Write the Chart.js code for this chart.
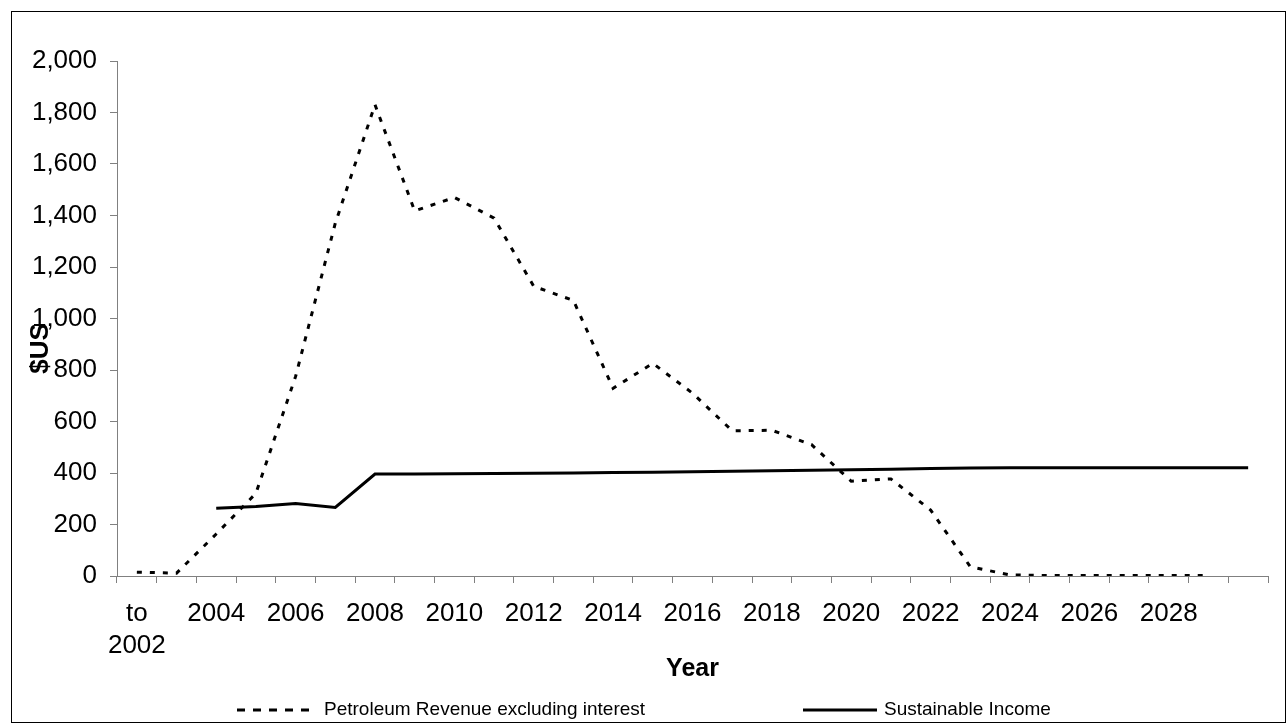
<!DOCTYPE html>
<html>
<head>
<meta charset="utf-8">
<script src="https://cdn.jsdelivr.net/npm/chart.js@4"></script>
<style>
  body { margin: 0; background: #fff; }
  #wrap { width: 1288px; height: 725px; }
</style>
</head>
<body>
<div id="wrap"><canvas id="myChart" width="1288" height="725"></canvas></div>
<script>
const years = [['to', '2002'], '2003', '2004', '2005', '2006', '2007', '2008', '2009', '2010', '2011',
    '2012', '2013', '2014', '2015', '2016', '2017', '2018', '2019', '2020', '2021',
    '2022', '2023', '2024', '2025', '2026', '2027', '2028', '2029', '2030'];
const petroleumRevenue = [15, 11, 163, 321, 775, 1370, 1830, 1418, 1470, 1390,
    1125, 1070, 729, 826, 710, 564, 566, 510, 368, 377,
    256, 36, 4, 2, 2, 2, 2, 2, null];
const sustainableIncome = [null, null, 263, 270, 282, 266, 396, 396, 397, 398,
    399, 400, 402, 403, 405, 407, 409, 411, 413, 415,
    417, 419, 420, 420, 420, 420, 420, 420, 420];
const seriesNames = ['Petroleum Revenue excluding interest', 'Sustainable Income'];
const yTicks = { min: 0, max: 2000, step: 200 };

const FONT = '"Liberation Sans", Arial, sans-serif';
const axisGray = '#808080';

// frame, y title and legend drawn by hand
const extras = {
    id: 'extras',
    beforeDraw(chart) {
        const ctx = chart.ctx;
        ctx.save();
        ctx.fillStyle = '#fff';
        ctx.fillRect(0, 0, chart.width, chart.height);
        ctx.strokeStyle = '#000';
        ctx.lineWidth = 1;
        ctx.strokeRect(11.5, 11.5, chart.width - 14, chart.height - 14);
        ctx.restore();
    },
    afterDraw(chart) {
        const ctx = chart.ctx;
        const area = chart.chartArea;
        ctx.save();
        // y axis title, overlapping the tick labels like the original
        ctx.translate(41, (area.top + area.bottom) / 2 + 30);
        ctx.rotate(-Math.PI / 2);
        ctx.font = 'bold 26px ' + FONT;
        ctx.fillStyle = '#000';
        ctx.textAlign = 'center';
        ctx.textBaseline = 'middle';
        ctx.fillText('$US', 0, 0);
        ctx.restore();

        // legend
        const y = 710;
        const items = [
            { x: 237, len: 80, dash: [8, 8] },
            { x: 803, len: 74, dash: [] }
        ];
        ctx.save();
        ctx.font = '19px ' + FONT;
        ctx.fillStyle = '#000';
        ctx.textBaseline = 'middle';
        items.forEach((it, i) => {
            ctx.beginPath();
            ctx.setLineDash(it.dash);
            ctx.lineWidth = 3;
            ctx.strokeStyle = '#000';
            ctx.moveTo(it.x, y);
            ctx.lineTo(it.x + it.len, y);
            ctx.stroke();
            ctx.setLineDash([]);
            ctx.fillText(seriesNames[i], it.x + it.len + 7, y);
        });
        ctx.restore();
    }
};

const ctx = document.getElementById('myChart').getContext('2d');
const myChart = new Chart(ctx, {
    type: 'line',
    data: {
        labels: years,
        datasets: [{
            label: seriesNames[0],
            data: petroleumRevenue,
            borderColor: '#000',
            borderWidth: 3,
            borderDash: [5, 8],
            pointRadius: 0,
            tension: 0,
            fill: false
        }, {
            label: seriesNames[1],
            data: sustainableIncome,
            borderColor: '#000',
            borderWidth: 3,
            pointRadius: 0,
            tension: 0,
            fill: false
        }]
    },
    options: {
        responsive: false,
        animation: false,
        devicePixelRatio: 1,
        layout: {
            padding: { left: 0, top: 61, right: 20, bottom: 37 }
        },
        scales: {
            x: {
                offset: true,
                grid: {
                    offset: true,
                    drawOnChartArea: false,
                    tickLength: 7,
                    color: axisGray
                },
                border: { color: axisGray, width: 1 },
                ticks: {
                    autoSkip: false,
                    maxRotation: 0,
                    padding: 15,
                    color: '#000',
                    font: { family: FONT, size: 26, lineHeight: 1.23 },
                    callback: function (value, index) {
                        // every second year, the last one left blank as in the original
                        return (index % 2 === 0 && index < years.length - 1) ? this.getLabelForValue(value) : '';
                    }
                },
                title: {
                    display: true,
                    text: 'Year',
                    color: '#000',
                    font: { family: FONT, size: 25, weight: 'bold' },
                    padding: { top: 0, bottom: 4 }
                },
                afterFit: function (scale) {
                    scale.height = 112;
                }
            },
            y: {
                min: yTicks.min,
                max: yTicks.max,
                grid: {
                    drawOnChartArea: false,
                    tickLength: 7,
                    color: axisGray
                },
                border: { color: axisGray, width: 1 },
                ticks: {
                    stepSize: yTicks.step,
                    padding: 13,
                    color: '#000',
                    font: { family: FONT, size: 26 },
                    callback: value => value.toLocaleString('en-US')
                },
                afterFit: function (scale) {
                    scale.width = 117;
                }
            }
        },
        plugins: {
            legend: { display: false },
            tooltip: { enabled: false }
        }
    },
    plugins: [extras]
});
</script>
</body>
</html>
